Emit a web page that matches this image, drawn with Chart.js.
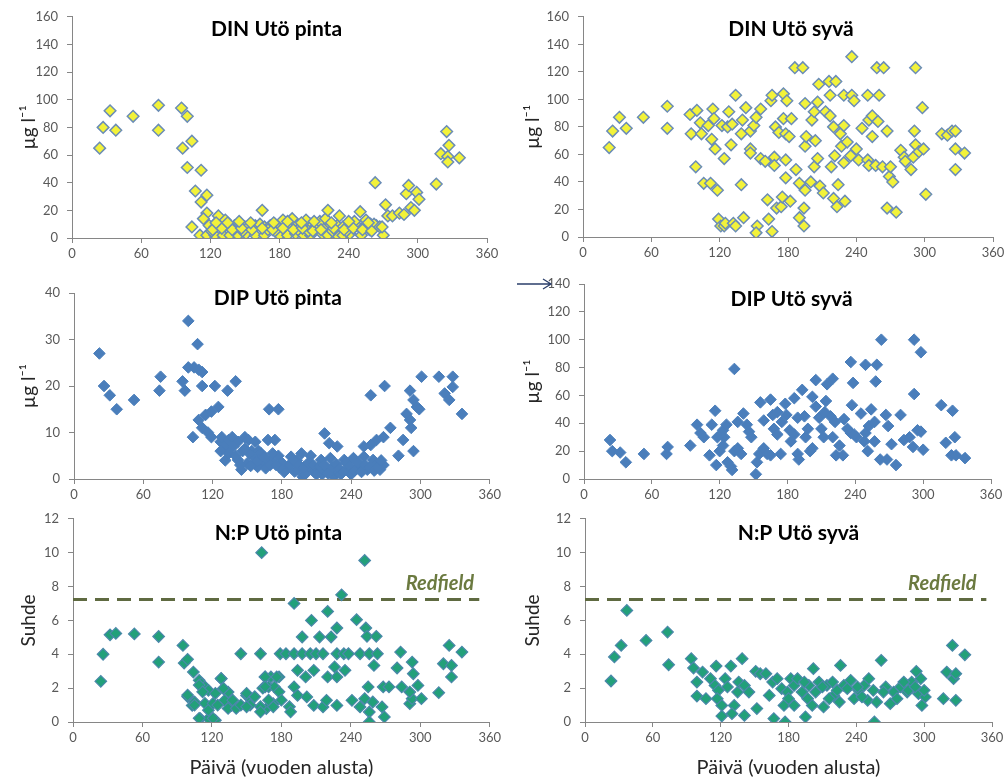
<!DOCTYPE html>
<html lang="fi">
<head>
<meta charset="UTF-8">
<title>Utö ravinteet</title>
<script src="https://cdn.jsdelivr.net/npm/chart.js"></script>
<style>
  body { margin: 0; background: #fff; width: 1008px; height: 783px; position: relative; overflow: hidden; }
  canvas { position: absolute; }
</style>
</head>
<body>
<canvas id="c1" width="504" height="262" style="left:0;top:0"></canvas>
<canvas id="c2" width="504" height="262" style="left:504px;top:0"></canvas>
<canvas id="c3" width="504" height="240" style="left:0;top:262px"></canvas>
<canvas id="c4" width="504" height="240" style="left:504px;top:262px"></canvas>
<canvas id="c5" width="504" height="281" style="left:0;top:502px"></canvas>
<canvas id="c6" width="504" height="281" style="left:504px;top:502px"></canvas>
<script>
// [päivä, arvo]
const dinPinta = [[24,65],[27,80],[33,92],[38,78],[53,88],[75,96],[75,78],[95,94],[96,65],[100,88],[100,51],[104,70],[107,34],[112,49],[112,26],[104,8],[111,2],[117,31],[117,18],[114,14],
  [119,9],[124,8],[128,10],[133,9],[137,8],[141,9],[146,10],[150,8],[154,9],[159,9],[163,10],[167,8],[172,9],[176,10],[180,8],[185,9],[189,9],[194,11],[198,8],[202,9],[207,10],[212,9],[218,8],[224,10],[230,9],[235,8],[241,11],[247,9],[253,8],[259,10],[264,9],
  [117,2],[124,2],[131,2],[137,2],[144,2],[151,3],[159,2],[167,2],[180,2],[187,2],[194,3],[201,2],[207,2],[217,3],[222,2],[230,2],[235,2],[241,3],[251,2],[270,2],
  [121,5],[126,12],[127,16],[133,13],[140,6],[148,5],[165,20],[170,6],[176,5],[183,13],[191,14],[196,6],[203,13],[205,5],[211,7],[215,12],[220,14],[222,20],[226,5],[232,16],[238,5],[245,12],[250,19],[255,13],[258,6],[262,10],[263,40],[267,8],[269,8],
  [122,6],[130,7],[139,6],[147,7],[156,6],[165,7],[174,6],[183,7],[192,6],[200,7],[209,5],[216,6],[227,7],[236,6],[244,7],[252,6],[260,5],
  [125,11],[135,11],[145,12],[155,11],[175,11],[187,12],[199,11],[210,12],[225,11],[240,12],[257,11],
  [272,24],[274,16],[278,16],[284,18],[288,17],[290,32],[292,38],[294,22],[297,20],[299,33],[301,28],[316,39],[320,61],[325,77],[327,67],[326,59],[326,55],[336,58]];

const dinSyva = [[23,65],[26,77],[32,87],[38,79],[53,87],[74,95],[74,79],[94,89],[95,75],[100,92],[99,51],[103,83],[104,75],[106,39],[110,81],[112,39],[113,71],[114,93],[115,86],[116,64],[118,34],[119,13],[121,8],[124,8],[125,10],[122,81],[124,57],[127,80],[128,91],[130,67],[131,82],[132,10],[134,8],[134,103],[139,38],[139,75],[140,85],[141,14],[143,94],[147,64],[147,61],[147,77],[150,81],[152,87],[153,8],[152,3],[156,93],[156,57],[160,55],[162,27],[163,13],[165,99],[166,103],[166,4],[168,58],[168,52],[169,80],[170,21],[172,76],[174,22],[175,29],[176,104],[176,86],[178,75],[178,43],[178,56],[179,99],[181,73],[182,26],[183,86],[186,123],[187,49],[190,14],[190,39],[193,123],[194,8],[194,21],[195,66],[195,97],[196,73],[195,34],[200,40],[201,85],[203,91],[203,51],[204,70],[206,98],[206,57],[207,111],[208,37],[211,32],[213,91],[216,113],[217,103],[217,88],[218,51],[220,80],[221,59],[220,28],[222,113],[223,22],[224,38],[226,75],[227,66],[229,54],[229,81],[229,103],[230,26],[232,69],[235,59],[236,131],[236,103],[238,99],[240,64],[242,56],[245,79],[250,103],[250,56],[251,52],[251,85],[254,88],[254,73],[257,52],[258,123],[259,84],[260,103],[264,123],[263,51],[267,77],[269,44],[270,51],[272,40],[267,21],[275,18],[279,63],[282,58],[283,55],[288,49],[290,58],[292,123],[291,77],[292,67],[295,62],[299,64],[298,94],[301,31],[315,75],[320,74],[324,77],[327,77],[327,64],[327,49],[335,61]];

const dipPinta = [[22,27],[26,20],[31,18],[37,15],[52,17],[74,19],[75,22],[94,21],[96,19],[99,34],[99,24],[104,24],[103,9],[107,29],[108,23.5],[111,23],[111,20],[122,20],[133,19],[140,21],
  [169,15],[177,15],[257,18],[269,20],[301,22],[291,19],[294,17],[297,15.5],[299,15],[288,14],[291,12.7],[292,11],[294,6],[281,5],[285,8.4],[274,11],[268,9],[262,8.4],[257,7.3],[251,7],[217,9.8],[221,7.7],[228,7],
  [108,12.7],[114,13.8],[119,14.5],[125,15.5],[111,11],[116,10],[119,9],
  [127,8],[128,9],[131,7],[134,8.4],[137,9],[142,8],[145,2],[148,9],[151,8.4],[154,6],[157,8],[160,6],[162,5.5],[164,3.4],[168,8.4],[171,4],[174,8.4],[177,5],[127,6],[131,4],[134,5.5],[138,7],[142,4.1],[146,6],[150,3.4],[155,4.8],[159,2.6],[166,2.3],[170,3],[160,4.1],[140,5],[152,5.5],
  [185,2.6],[188,4.8],[191,1.6],[194,2],[197,5.5],[198,0.5],[202,2.3],[205,5],[208,1.5],[211,2.3],[214,4.1],[219,2],[222,4.5],[225,0.5],[228,1.6],[234,4.1],[237,2],[242,4.5],[245,2.3],[251,4.8],[254,2],[259,4.1],[262,3],[268,3],[180,3.5],[183,2],[200,1],[215,1],[231,1],[240,1],[248,2.5],[193,4],[265,2],
  [182,1.5],[187,3],[190,4],[195,3],[199,2.5],[203,3.5],[207,3],[210,1],[213,2.8],[217,3],[220,1.2],[224,2.5],[227,3.2],[230,2.2],[233,1.5],[236,3.5],[239,2.8],[243,1.8],[246,3.5],[249,1.5],[252,3],[256,2.5],[260,1.8],[263,2.5],[266,4],[178,2.5],[172,5.5],[175,3],[165,4.8],[158,3.7],[153,2.8],[148,6.5],[144,3],
  [316,22],[321,18.4],[328,22],[328,19.8],[325,17],[336,14]];

const dipSyva = [[23,28],[25,20],[32,19],[37,12],[53,18],[73,18],[74,23],[94,24],[100,39],[103,33],[106,30],[111,17],[113,39],[116,49],[117,10],[120,20],[123,35],[124,30],[126,39],[127,12],[130,9],[131,6.5],[133,79],[133,20],[136,22],[139,18],[141,47],[144,39],[146,34],[148,30],[152,3.4],[153,12],[155,18],[156,55],[159,22],[162,18],[165,17],[165,57],[167,46],[168,36],[171,32],[175,41],[179,46],[174,18],[178,54],[182,35],[183,27],[186,58],[189,18],[190,14],[193,64],[195,45],[196,30],[198,36],[200,20],[202,22],[202,59],[205,71],[205,52],[208,44],[210,36],[212,30],[214,56],[215,68],[220,72],[218,45],[220,30],[222,41],[223,17],[226,24],[229,17],[230,43],[233,36],[236,33],[241,30],[236,84],[238,69],[237,53],[245,47],[249,82],[251,20],[249,33],[252,38],[254,50],[257,41],[257,27],[259,82],[258,70],[263,100],[262,14],[268,14],[267,46],[269,38],[272,25],[276,10],[280,46],[283,28],[288,30],[291,23],[292,61],[292,100],[295,35],[298,34],[298,91],[300,21],[316,53],[320,26],[325,17],[326,49],[328,30],[329,17],[337,15],
  [118,30],[123,24],[136,41],[159,42],[171,48],[186,32],[189,44],[213,48],[239,32],[248,27]];

const npPinta = [[24,2.4],[26,4.0],[32,5.15],[37,5.23],[53,5.2],[74,5.05],[74,3.54],[95,4.52],[96,3.48],[99,3.7],[99,1.5],[104,2.95],[103,0.98],[105,1.18],[110,0.2],[109,2.46],[111,2.26],[114,2.07],[117,1.87],[117,0.2],[123,0.1],[128,2.56],[130,1.97],[134,1.77],[131,1.28],[137,0.98],[145,4.03],[150,1.57],[153,1.38],[162,4.03],[163,10],
  [166,2.66],[169,2.07],[171,2.66],[174,2.07],[178,2.66],[164,2.0],[167,0.79],[173,1.08],
  [179,4.03],[184,4.03],[191,4.03],[198,4.03],[205,4.03],[210,4.03],[216,4.03],[228,4.03],[234,4.03],[238,4.03],[248,4.03],[256,4.03],[263,4.03],
  [191,7.0],[198,5.02],[206,6.0],[213,5.02],[220,6.53],[223,5.02],[228,5.55],[232,7.51],[245,6.04],[252,9.54],[253,5.55],[254,5.06],[262,5.06],[260,3.34],
  [194,3.05],[201,2.66],[208,3.05],[220,2.66],[226,3.25],[235,3.05],[228,2.66],
  [191,2.07],[194,1.57],[202,1.48],[208,0.98],[216,0.89],[219,1.28],[228,0.98],[241,1.28],[248,0.89],[252,1.38],[256,0.59],[256,0],[255,2.07],[259,1.18],[267,0.89],[269,0.3],[268,2.07],
  [273,2.07],[280,3.19],[283,4.13],[284,2.07],[291,1.08],[293,3.54],[294,2.85],[298,2.16],[293,1.38],[301,1.38],[291,1.77],
  [316,1.73],[320,3.44],[325,4.52],[327,3.34],[327,2.66],[336,4.13],
  [99,1.59],[105,1.0],[109,2.18],[112,1.78],[114,1.1],[117,0.7],[121,1.1],[123,1.69],[125,1.0],[128,2.57],[130,1.98],[134,0.8],[138,1.29],[141,0.8],[145,1.0],[150,1.69],[153,1.0],[157,1.49],[162,0.9],[166,2.66],[166,2.08],[169,1.29],[173,0.9],[176,2.66],[178,1.78],[180,1.29],[187,0.9],[188,0.6],[109,0.22],[121,0.22],[150,0.9],[162,0.6]];

const npSyva = [[23,2.42],[26,3.84],[32,4.52],[37,6.59],[54,4.82],[73,5.31],[74,3.38],[94,3.74],[96,3.19],[99,2.36],[99,1.53],[104,2.95],[107,1.38],[111,2.56],[115,2.16],[118,1.87],[117,1.38],[121,0.98],[116,3.3],[121,0.35],[124,2.56],[126,2.07],[129,3.3],[132,0.98],[130,0.49],[135,1.77],[136,2.36],[139,3.74],[141,0.39],[141,2.16],[145,1.77],[151,2.99],[152,0.79],[155,2.85],[160,2.85],[163,1.57],[166,2.36],[167,0.2],[170,2.56],[174,1.97],[176,0.98],[177,0],[179,1.77],[182,2.56],[180,1.38],[185,2.16],
  [188,2.56],[192,1.77],[195,0.3],[197,1.38],[198,2.16],[202,3.15],[204,1.77],[207,2.36],[211,0.89],[214,2.16],[220,1.57],[226,3.34],[229,2.16],[235,2.46],[238,1.38],[242,1.87],[247,2.16],[250,1.28],[251,2.56],[255,1.87],[258,1.18],[256,0],[262,3.64],[266,2.07],[270,1.08],[273,1.77],[279,2.07],[285,1.77],[289,2.36],[293,2.99],[295,1.67],[298,0.98],[301,1.48],[317,1.38],[320,2.95],[325,4.52],[326,2.56],[328,1.28],[336,3.97],[328,2.85],
  [194,2.36],[210,2.07],[219,2.36],[223,1.87],[232,1.97],[241,2.07],[245,1.48],[264,1.77],[276,1.38],[282,2.36],[286,1.87],[292,2.07],[300,1.87],[297,2.56],[201,0.98],[216,1.38],[225,1.18],[185,0.98]];

const redfield = 7.23;
const dayTicks = [0, 60, 120, 180, 240, 300, 360];

const FONT = "Lato, 'Open Sans', sans-serif";
const yellow = { bg: '#f2f23a', border: '#6b8db6', bw: 1.5 };
const blue = { bg: '#4a7ebb', border: '#4a7ebb', bw: 1 };
const green = { bg: '#22a07a', border: '#4b88aa', bw: 1.2 };

const panelText = {
  id: 'panelText',
  afterDatasetsDraw(chart, args, opts) {
    const ctx = chart.ctx, a = chart.chartArea;
    ctx.save();
    ctx.fillStyle = '#000';
    ctx.font = "bold 21px " + FONT;
    ctx.textAlign = 'center';
    ctx.textBaseline = 'middle';
    ctx.fillText(opts.title, (a.left + a.right) / 2 + (opts.dx || 0), a.top + opts.dy);
    if (opts.redfield) {
      const xs = chart.scales.x, ys = chart.scales.y;
      ctx.fillStyle = '#6b7a40';
      ctx.font = "italic bold 20px " + FONT;
      ctx.fillText('Redfield', xs.getPixelForValue(opts.redfield[0]), ys.getPixelForValue(opts.redfield[1]));
    }
    if (opts.arrow) {
      const ys = chart.scales.y;
      const y = ys.getPixelForValue(ys.max), x1 = a.left - 33, x0 = x1 - 34;
      ctx.strokeStyle = '#2b3f6b';
      ctx.lineWidth = 1.3;
      ctx.beginPath();
      ctx.moveTo(x0, y); ctx.lineTo(x1, y);
      ctx.moveTo(x1 - 8, y - 5); ctx.lineTo(x1, y); ctx.lineTo(x1 - 8, y + 5);
      ctx.stroke();
    }
    ctx.restore();
  }
};

function makePanel(p) {
  const pts = p.data.map(d => ({ x: d[0], y: d[1] }));
  const datasets = [{
    data: pts,
    pointStyle: 'rectRot',
    pointRadius: 5.8,
    backgroundColor: p.style.bg,
    borderColor: p.style.border,
    pointBorderWidth: p.style.bw,
    order: 1
  }];
  if (p.redfieldEnd) {
    datasets.push({
      data: [{ x: 0, y: redfield }, { x: p.redfieldEnd, y: redfield }],
      showLine: true,
      pointRadius: 0,
      borderColor: '#5f6a41',
      borderWidth: 3,
      borderDash: [14, 8],
      order: 2
    });
  }
  const axisGrid = { drawOnChartArea: false, drawTicks: true, tickLength: 5, color: '#868686' };
  new Chart(document.getElementById(p.id), {
    type: 'scatter',
    data: { datasets },
    plugins: [panelText],
    options: {
      responsive: false,
      animation: false,
      layout: { padding: { left: 0, right: p.padRight, top: p.padTop, bottom: 0 } },
      plugins: {
        legend: { display: false },
        tooltip: { enabled: false },
        panelText: { title: p.title, dx: p.dx, dy: p.dy, redfield: p.redfieldLabel, arrow: p.arrow }
      },
      scales: {
        x: {
          type: 'linear', min: 0, max: 360,
          afterBuildTicks: s => { s.ticks = dayTicks.map(v => ({ value: v })); },
          afterFit: s => { s.height = p.xHeight; },
          grid: axisGrid,
          border: { color: '#868686' },
          ticks: { color: '#595959', font: { family: FONT, size: 13 }, padding: 3, maxRotation: 0 },
          title: p.xTitle ? { display: true, text: 'Päivä (vuoden alusta)', color: '#262626', font: { family: FONT, size: 20 }, padding: { top: 0, bottom: 3 } } : { display: false }
        },
        y: {
          min: 0, max: p.yMax,
          afterFit: s => { s.width = p.yWidth; },
          grid: axisGrid,
          border: { color: '#868686' },
          ticks: { stepSize: p.yStep, color: '#595959', font: { family: FONT, size: 13 }, padding: 9 },
          title: { display: true, text: p.yTitle, color: '#262626', font: { family: FONT, size: 19 }, padding: { top: 17, bottom: 0 } }
        }
      }
    }
  });
}

const ug = 'µg l⁻¹';
makePanel({ id: 'c1', data: dinPinta, style: yellow, title: 'DIN Utö pinta', yMax: 160, yStep: 20, yTitle: ug, yWidth: 72, xHeight: 24, padRight: 17, padTop: 15, dx: -3, dy: 12 });
makePanel({ id: 'c2', data: dinSyva, style: yellow, title: 'DIN Utö syvä', yMax: 160, yStep: 20, yTitle: ug, yWidth: 79, xHeight: 25, padRight: 15, padTop: 15, dx: 3, dy: 12 });
makePanel({ id: 'c3', data: dipPinta, style: blue, title: 'DIP Utö pinta', yMax: 40, yStep: 10, yTitle: ug, yWidth: 74, xHeight: 23, padRight: 10, padTop: 31, dx: -4, dy: 5 });
makePanel({ id: 'c4', data: dipSyva, style: blue, title: 'DIP Utö syvä', yMax: 140, yStep: 20, yTitle: ug, yWidth: 80, xHeight: 23, padRight: 17, padTop: 22, dx: 4, dy: 15, arrow: true });
makePanel({ id: 'c5', data: npPinta, style: green, title: 'N:P Utö pinta', yMax: 12, yStep: 2, yTitle: 'Suhde', yWidth: 73, xHeight: 61, padRight: 4, padTop: 16, dx: -3, dy: 14, xTitle: true, redfieldEnd: 351, redfieldLabel: [317, 8.15] });
makePanel({ id: 'c6', data: npSyva, style: green, title: 'N:P Utö syvä', yMax: 12, yStep: 2, yTitle: 'Suhde', yWidth: 81, xHeight: 61, padRight: 16, padTop: 16, dx: 10, dy: 14, xTitle: true, redfieldEnd: 355, redfieldLabel: [316, 8.15] });
</script>
</body>
</html>
